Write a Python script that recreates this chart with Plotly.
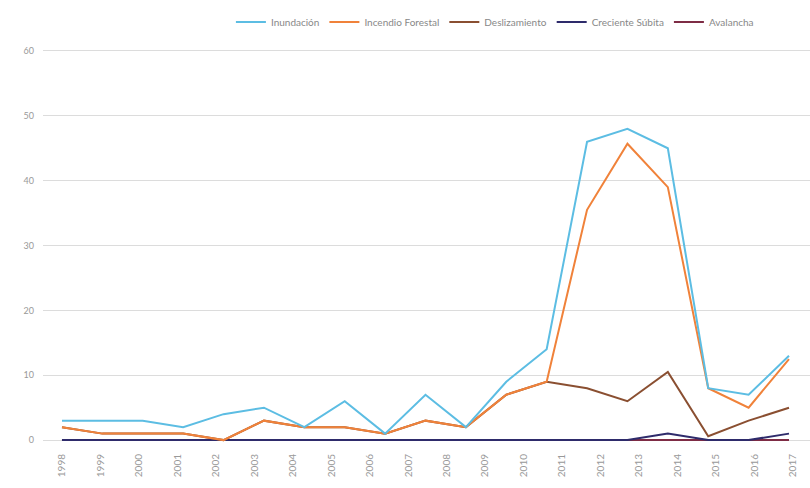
import numpy as np
import plotly.graph_objects as go

years = [str(y) for y in range(1998, 2018)]
idx = list(range(19))

inundacion = [3, 3, 3, 2, 4, 5, 2, 6, 1, 7, 2, 9, 14, 46, 48, 45, 8, 7, 13]
incendio = [2, 1, 1, 1, 0, 3, 2, 2, 1, 3, 2, 7, 9, 35.5, 45.7, 39, 8, 5, 12.5]
deslizamiento = [2, 1, 1, 1, 0, 3, 2, 2, 1, 3, 2, 7, 9, 8, 6, 10.5, 0.6, 3, 5]
creciente = [0, 0, 0, 0, 0, 0, 0, 0, 0, 0, 0, 0, 0, 0, 0, 1, 0, 0, 1]
avalancha = [0, 0, 0, 0, 0, 0, 0, 0, 0, 0, 0, 0, 0, 0, 0, 0, 0, 0, 0]

series = [
    ("Inundación", inundacion, "#5cbde3"),
    ("Incendio Forestal", incendio, "#f0823a"),
    ("Deslizamiento", deslizamiento, "#8a4f31"),
    ("Creciente Súbita", creciente, "#2e2b6b"),
    ("Avalancha", avalancha, "#7e2c45"),
]

fig = go.Figure()
# draw in reverse so the first series is on top
for name, vals, col in reversed(series):
    fig.add_trace(go.Scatter(x=idx, y=vals, name=name, mode="lines",
                             line=dict(color=col, width=2)))

tickpos = np.linspace(0, 18.1, len(years))

fig.update_layout(
    width=810, height=488,
    margin=dict(l=43, r=0, t=49, b=44, autoexpand=False),
    paper_bgcolor="white", plot_bgcolor="white",
    font=dict(family="Lato, Open Sans, sans-serif", color="#888"),
    showlegend=True,
    legend=dict(orientation="h", x=0.245, xanchor="left", y=0.955, yanchor="middle",
                yref="container",
                traceorder="reversed", font=dict(size=10, color="#888"),
                itemwidth=30, bgcolor="rgba(0,0,0,0)"),
    xaxis=dict(range=[-0.47, 18.52], tickmode="array", tickvals=tickpos,
               ticktext=years, tickangle=-90, showgrid=False, zeroline=False,
               showline=False, tickfont=dict(size=10, color="#999"), ticks="",
               ticklabelstandoff=7),
    yaxis=dict(range=[-0.6, 60.3], tickmode="array", tickvals=[0, 10, 20, 30, 40, 50, 60],
               showgrid=True, gridcolor="#dcdcdc", gridwidth=1, zeroline=False,
               tickfont=dict(size=9, color="#999"), ticks="", ticklabelstandoff=8),
)

fig.write_html("out.html", config={"displayModeBar": False},
               post_script="document.body.style.margin='0';")
